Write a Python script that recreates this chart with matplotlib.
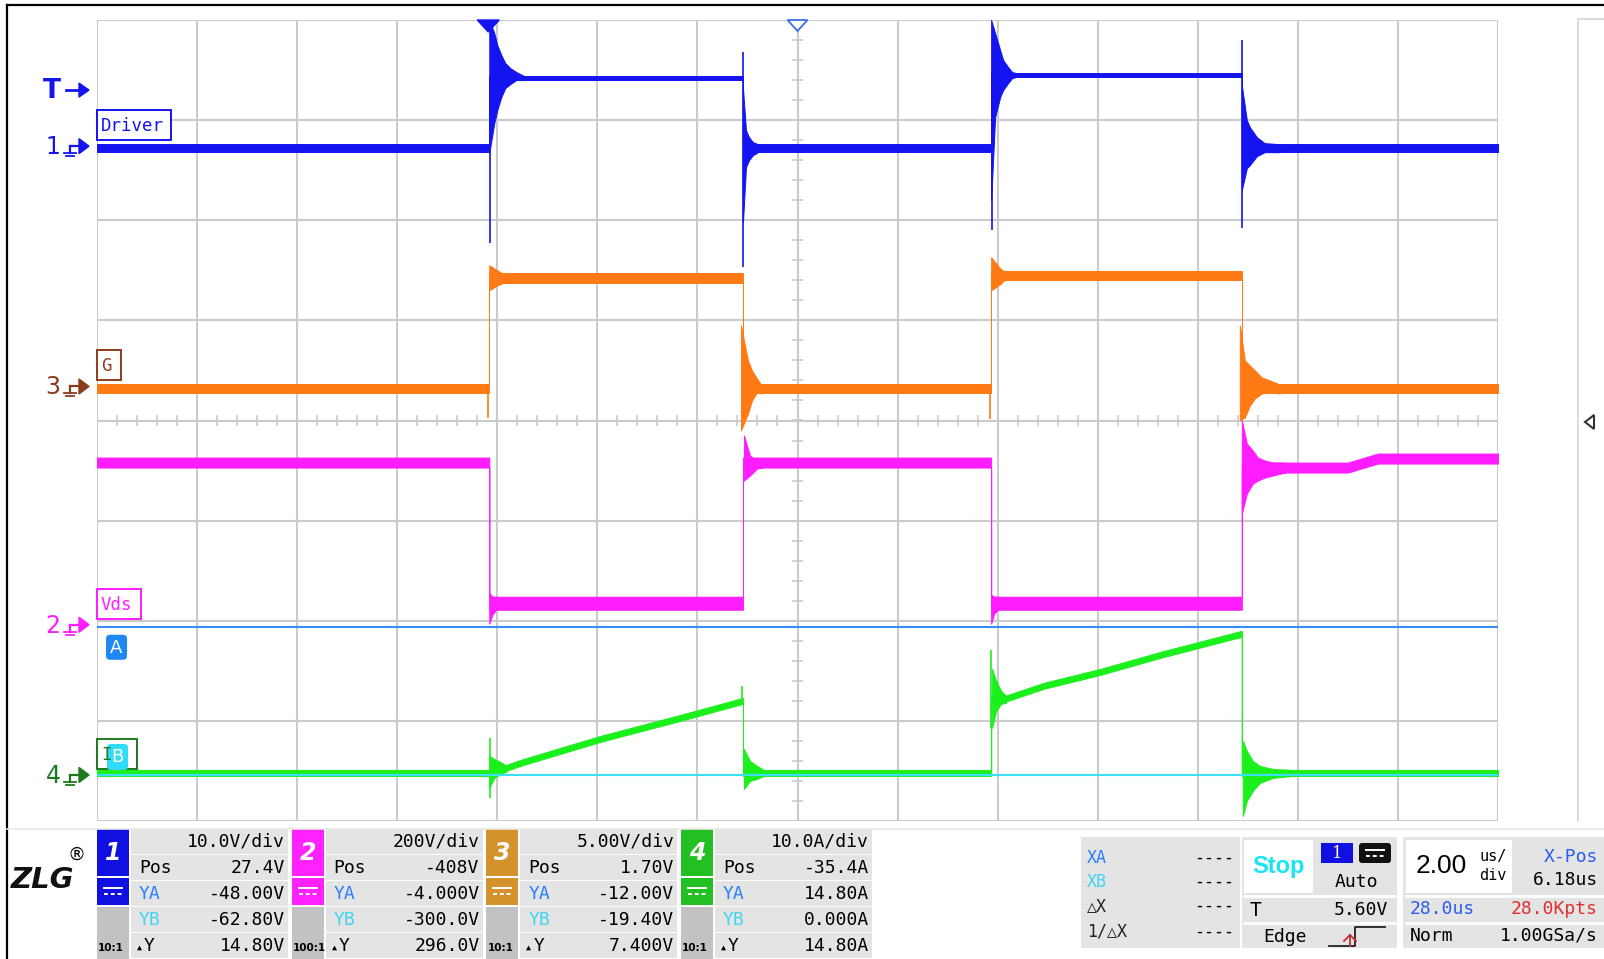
import matplotlib
matplotlib.use("Agg")
import matplotlib.pyplot as plt
import numpy as np
from matplotlib.patches import Rectangle, Polygon, FancyBboxPatch

W, H = 1604, 959
# screen area of the waveform grid, in pixels
GX0, GX1, GY0, GY1 = 97, 1498, 20, 821

plt.rcParams['font.family'] = ['DejaVu Sans Mono', 'DejaVu Sans']

# ---- scope settings ----
ch_names = ["Driver", "Vds", "G", "I"]
ch_scale = [10.0, 200.0, 5.00, 10.0]        # per div
ch_pos = [27.4, -408.0, 1.70, -35.4]
ch_unit = ["V", "V", "V", "A"]
ch_probe = ["10:1", "100:1", "10:1", "10:1"]
ch_ya = [-48.0, -4.0, -12.0, 14.8]
ch_yb = [-62.8, -300.0, -19.4, 0.0]
cursor_ch = 1                                # cursors belong to CH2

time_div = 2.00       # us/div
x_pos = 6.18          # us
trig_level = 5.60     # V on CH1
sample_rate = 1.00    # GSa/s

# ---- CH1 Driver (V) ----
drv_t = [-14, -6.16, -6.16, -1.09, -1.09, 3.87, 3.87, 8.88, 8.88, 14]
drv_hi = [0.2, 0.2, 7.0, 7.0, 0.2, 0.2, 7.3, 7.3, 0.2, 0.2]
drv_lo = [-0.6, -0.6, 6.6, 6.6, -0.6, -0.6, 6.9, 6.9, -0.6, -0.6]
drv_rings = [
    (-6.16, [(0.00, 12.6, -0.7), (0.10, 11.3, 2.3), (0.16, 10.1, 3.6), (0.24, 9.1, 4.9),
             (0.32, 8.3, 5.8), (0.42, 7.8, 6.2), (0.54, 7.4, 6.6), (0.70, 7.0, 6.6)]),
    (-1.09, [(0.00, 5.8, -7.6), (0.06, 1.6, -2.1), (0.12, 0.9, -1.4), (0.20, 0.4, -0.9),
             (0.30, 0.2, -0.6)]),
    (3.87, [(0.00, 12.6, -5.4), (0.08, 11.3, 2.9), (0.18, 9.6, 4.9), (0.24, 8.6, 5.6),
            (0.34, 7.9, 6.3), (0.42, 7.4, 6.8), (0.50, 7.3, 6.9)]),
    (8.88, [(0.00, 6.1, -4.4), (0.10, 2.6, -2.2), (0.16, 1.9, -1.9), (0.30, 0.9, -1.0),
            (0.46, 0.3, -0.6), (0.76, 0.2, -0.6)]),
]
drv_spikes = [(-6.14, -9.7, 0.0), (-1.08, -12.1, 9.4), (3.89, -8.4, 0.0), (8.88, -8.2, 10.6)]

# ---- CH2 Vds (V) ----
vds_t = [-14, -6.16, -6.16, -1.09, -1.09, 3.87, 3.87, 8.88, 8.88, 11.0, 11.6, 14]
vds_hi = [334, 334, 56, 56, 334, 334, 56, 56, 324, 324, 342, 342]
vds_lo = [314, 314, 30, 30, 314, 314, 30, 30, 304, 304, 322, 322]
vds_rings = [
    (-6.16, [(0.00, 64, 2), (0.06, 56, 20), (0.14, 56, 30)]),
    (-1.09, [(0.02, 378, 288), (0.14, 338, 298), (0.28, 328, 312), (0.40, 334, 314)]),
    (3.87, [(0.00, 60, 2), (0.06, 56, 22), (0.14, 56, 30)]),
    (8.88, [(0.00, 408, 222), (0.10, 362, 262), (0.22, 348, 282), (0.32, 334, 288),
            (0.46, 328, 294), (0.62, 324, 298), (0.86, 324, 304)]),
]
vds_spikes = []

# ---- CH3 gate G (V) ----
gate_t = [-14, -6.16, -6.16, -1.09, -1.09, 3.87, 3.87, 8.88, 8.88, 14]
gate_hi = [0.1, 0.1, 5.65, 5.65, 0.1, 0.1, 5.75, 5.75, 0.1, 0.1]
gate_lo = [-0.35, -0.35, 5.15, 5.15, -0.35, -0.35, 5.3, 5.3, -0.35, -0.35]
gate_rings = [
    (-6.16, [(0.00, 6.05, 4.8), (0.16, 5.8, 5.05), (0.26, 5.65, 5.15)]),
    (-1.09, [(-0.04, 3.05, -2.2), (0.10, 1.3, -1.35), (0.18, 0.8, -0.7), (0.28, 0.4, -0.3),
             (0.36, 0.1, -0.35)]),
    (3.87, [(0.00, 6.45, 4.8), (0.18, 5.9, 5.1), (0.26, 5.75, 5.3)]),
    (8.88, [(-0.04, 3.05, -1.7), (0.06, 1.3, -1.55), (0.16, 1.05, -0.95), (0.26, 0.8, -0.6),
            (0.40, 0.45, -0.35), (0.56, 0.3, -0.3), (0.76, 0.1, -0.35)]),
]
gate_spikes = [(-6.18, -1.6, 0.0), (3.85, -1.65, 0.0)]

# ---- CH4 current I (A) ----
cur_t = [-14, -6.16, -5.88, -5.54, -3.94, -2.34, -1.09, -1.09, 3.87, 3.87, 4.12, 4.92,
         6.06, 7.26, 8.88, 8.88, 14]
cur_hi = [0.5, 0.5, 0.9, 1.5, 3.9, 6.0, 7.7, 0.5, 0.5, 7.85, 7.85, 9.2, 10.6, 12.3, 14.4, 0.5, 0.5]
cur_lo = [-0.1, -0.1, 0.3, 0.9, 3.3, 5.4, 7.1, -0.1, -0.1, 7.25, 7.25, 8.6, 10.0, 11.7, 13.8,
          -0.1, -0.1]
cur_rings = [
    (-6.16, [(0.00, 1.9, -1.3), (0.10, 1.6, -0.3), (0.26, 1.2, 0.2), (0.34, 0.9, 0.3)]),
    (-1.09, [(0.02, 2.6, -1.4), (0.14, 1.4, -0.6), (0.28, 0.9, -0.4), (0.42, 0.5, -0.1)]),
    (3.87, [(0.02, 10.6, 4.7), (0.10, 9.4, 6.4), (0.20, 8.4, 7.1), (0.30, 7.9, 7.2)]),
    (8.88, [(0.02, 3.4, -4.1), (0.10, 2.4, -2.6), (0.22, 1.4, -1.6), (0.36, 0.9, -0.8),
            (0.62, 0.6, -0.3), (1.00, 0.5, -0.1)]),
]
cur_spikes = [(-6.14, -2.3, 3.7), (-1.10, 7.0, 8.9), (3.86, 4.7, 12.5)]

trace_col = ['#1414f0', '#ff1cff', '#ff7a14', '#1cf01c']
mark_col = ['#1414f0', '#ff1cff', '#8c3c1c', '#1e7a1e']
block_col = ['#1010e0', '#ff22ff', '#d4922c', '#22c022']
GRID = '#cbcbcb'
PANEL = '#e4e4e4'


def to_div(v, ch):
    return (np.asarray(v, dtype=float) + ch_pos[ch]) / ch_scale[ch]


def px_y(div):
    return GY0 + (4 - div) * (GY1 - GY0) / 8.0


def px_x(t):
    return GX0 + (t / time_div + 7) * (GX1 - GX0) / 14.0


def sig(v, n):
    s = f"{v:#.{n}g}"
    return s.rstrip('.')


fig = plt.figure(figsize=(W / 100, H / 100), dpi=100)
fig.patch.set_facecolor('white')

ax = fig.add_axes([GX0 / W, 1 - GY1 / H, (GX1 - GX0) / W, (GY1 - GY0) / H])
ax.set_xlim(-7 * time_div, 7 * time_div)
ax.set_ylim(-4, 4)
ax.set_axis_off()

# graticule
for k in range(-7, 8):
    ax.axvline(k * time_div, color=GRID, lw=1.5, zorder=1)
for k in range(-4, 5):
    ax.axhline(k, color=GRID, lw=1.5, zorder=1)
ax.hlines(np.arange(-4, 4.01, 0.2), -0.1, 0.1, color=GRID, lw=1.2, zorder=1)
ax.vlines(np.arange(-14, 14.01, 0.4), -0.05, 0.05, color=GRID, lw=1.2, zorder=1)


def draw_trace(ch, t, hi, lo, rings, spikes, z):
    c = trace_col[ch]
    ax.fill_between(t, to_div(lo, ch), to_div(hi, ch), color=c, lw=0.7, zorder=z)
    for t0, pts in rings:
        dt, rh, rl = zip(*pts)
        tt = [t0 + d for d in dt]
        ax.fill_between(tt, to_div(rl, ch), to_div(rh, ch), color=c, lw=0.7, zorder=z)
    for ts, a, b in spikes:
        ax.vlines(ts, to_div(a, ch), to_div(b, ch), color=c, lw=1.2, zorder=z)


draw_trace(3, cur_t, cur_hi, cur_lo, cur_rings, cur_spikes, 3)
draw_trace(1, vds_t, vds_hi, vds_lo, vds_rings, vds_spikes, 4)
draw_trace(2, gate_t, gate_hi, gate_lo, gate_rings, gate_spikes, 5)
draw_trace(0, drv_t, drv_hi, drv_lo, drv_rings, drv_spikes, 6)

# horizontal cursors
ya_div = to_div(ch_ya[cursor_ch], cursor_ch)
yb_div = to_div(ch_yb[cursor_ch], cursor_ch)
ax.axhline(ya_div, color='#3a8cf0', lw=1.5, zorder=8)
ax.axhline(yb_div, color='#3ce0f4', lw=1.5, zorder=8)

# ---- overlay in pixel coordinates ----
ov = fig.add_axes([0, 0, 1, 1], zorder=10)
ov.set_xlim(0, W)
ov.set_ylim(H, 0)
ov.set_axis_off()

# outer frame
ov.plot([7, W], [5, 5], color='black', lw=1.6)
ov.plot([7, 7], [5, H], color='black', lw=1.6)
ov.plot([7, W], [829, 829], color='#e6e9e0', lw=1.2)
ov.plot([1610, 1578, 1578], [19, 19, 821], color='#d4d4d4', lw=1.2)
ov.add_patch(Polygon([(1594, 415), (1585, 422), (1594, 429)], closed=True, fc='white',
                     ec='#333333', lw=1.5))

# trigger position markers on top edge
tx = px_x(-x_pos)
ov.add_patch(Polygon([(tx - 11, GY0), (tx + 11, GY0), (tx, GY0 + 12)], closed=True,
                     fc='#1414f0', ec='#1414f0'))
cx = px_x(0)
ov.add_patch(Polygon([(cx - 10, GY0), (cx + 10, GY0), (cx, GY0 + 11)], closed=True,
                     fc='white', ec='#3a6cf0', lw=1.3))


def gnd_arrow(y, col):
    ov.add_patch(Polygon([(79, y - 7.5), (89, y), (79, y + 7.5)], closed=True, fc=col, ec=col))
    ov.plot([70, 80], [y, y], color=col, lw=1.6)
    ov.plot([70, 70], [y, y + 7], color=col, lw=1.6)
    ov.plot([64, 76], [y + 7, y + 7], color=col, lw=1.3)
    ov.plot([66, 74], [y + 10, y + 10], color=col, lw=1.3)


# trigger level marker
ty = px_y(to_div(trig_level, 0))
ov.text(52, ty + 1, "T", color=mark_col[0], fontsize=19, fontweight='bold',
        family='DejaVu Sans', ha='center', va='center')
ov.plot([66, 80], [ty, ty], color=mark_col[0], lw=2)
ov.add_patch(Polygon([(79, ty - 7), (89, ty), (79, ty + 7)], closed=True,
                     fc=mark_col[0], ec=mark_col[0]))

# channel ground markers and name tags
tag_w = [74, 44, 24, 40]
for ch in range(4):
    gy = px_y(to_div(0.0, ch))
    ov.text(53, gy + 1, str(ch + 1), color=mark_col[ch], fontsize=17,
            family='DejaVu Sans', ha='center', va='center')
    gnd_arrow(gy, mark_col[ch])
    ov.add_patch(Rectangle((97, gy - 36), tag_w[ch], 30, fc='white', ec=mark_col[ch], lw=1.4))
    ov.text(101, gy - 20, ch_names[ch], color=mark_col[ch], fontsize=12.5,
            ha='left', va='center')

# cursor tags
ay = px_y(ya_div)
by = px_y(yb_div)
ov.add_patch(FancyBboxPatch((106, ay + 8), 21, 25, boxstyle='round,pad=0,rounding_size=4',
                            fc='#1e88f4', ec='none'))
ov.text(116.5, ay + 21, "A", color='white', fontsize=13, family='DejaVu Sans',
        ha='center', va='center')
ov.add_patch(FancyBboxPatch((107, by - 31), 21, 26, boxstyle='round,pad=0,rounding_size=4',
                            fc='#30dcf8', ec='none'))
ov.text(117.5, by - 18, "B", color='white', fontsize=13, family='DejaVu Sans',
        ha='center', va='center')

# ---- channel info blocks ----
ov.text(42, 880, "ZLG", fontsize=21, fontweight='bold', fontstyle='italic',
        family='DejaVu Sans', ha='center', va='center', color='#111111')
ov.text(76, 855, "®", fontsize=13, family='DejaVu Sans', ha='center', va='center')

rows = [829, 855, 881, 907, 933]
for ch in range(4):
    x0 = 97 + ch * 194.7
    col = block_col[ch]
    ov.add_patch(Rectangle((x0, 829), 32, 47, fc=col, ec='none'))
    ov.text(x0 + 16, 853, str(ch + 1), color='white', fontsize=17, fontweight='bold',
            fontstyle='italic', family='DejaVu Sans', ha='center', va='center')
    ov.add_patch(Rectangle((x0, 878), 32, 27, fc=col, ec='none'))
    ov.plot([x0 + 7, x0 + 25], [888, 888], color='white', lw=1.4)
    ov.plot([x0 + 7, x0 + 25], [894, 894], color='white', lw=1.4, ls=(0, (2, 1.5)))
    ov.add_patch(Rectangle((x0, 907), 32, 52, fc='#c2c2c2', ec='none'))
    ov.text(x0 + 1, 948, ch_probe[ch], fontsize=7.5, fontweight='bold',
            family='DejaVu Sans', ha='left', va='center')
    for r in rows:
        ov.add_patch(Rectangle((x0 + 34, r), 157, 25, fc=PANEL, ec='none'))
    u = ch_unit[ch]
    xr = x0 + 188
    xl = x0 + 42
    ov.text(xr, rows[0] + 13, f"{sig(ch_scale[ch], 3)}{u}/div", fontsize=13,
            ha='right', va='center')
    ov.text(xl, rows[1] + 13, "Pos", fontsize=13, ha='left', va='center')
    ov.text(xr, rows[1] + 13, f"{sig(ch_pos[ch], 3)}{u}", fontsize=13, ha='right', va='center')
    ov.text(xl, rows[2] + 13, "YA", fontsize=13, color='#2a7fff', ha='left', va='center')
    ov.text(xr, rows[2] + 13, f"{sig(ch_ya[ch], 4)}{u}", fontsize=13, ha='right', va='center')
    ov.text(xl, rows[3] + 13, "YB", fontsize=13, color='#40d4f0', ha='left', va='center')
    ov.text(xr, rows[3] + 13, f"{sig(ch_yb[ch], 4)}{u}", fontsize=13, ha='right', va='center')
    ov.text(xl - 2, rows[4] + 14, "▲", fontsize=6, ha='left', va='center')
    ov.text(xl + 5, rows[4] + 13, "Y", fontsize=13, ha='left', va='center')
    dy = abs(ch_ya[ch] - ch_yb[ch])
    ov.text(xr, rows[4] + 13, f"{sig(dy, 4)}{u}", fontsize=13, ha='right', va='center')

# ---- cursor readout ----
ov.add_patch(Rectangle((1081, 837), 159, 111, fc=PANEL, ec='none'))
for lab, yy, c in [("XA", 858, '#2a7fff'), ("XB", 882, '#40d4f0'),
                   ("△X", 906, '#222222'), ("1/△X", 932, '#222222')]:
    ov.text(1087, yy, lab, fontsize=12, color=c, ha='left', va='center')
    ov.text(1234, yy, "----", fontsize=12, ha='right', va='center')

# ---- run / trigger status ----
ov.add_patch(Rectangle((1242, 837), 155, 111, fc=PANEL, ec='none'))
ov.add_patch(Rectangle((1244, 840), 69, 53, fc='white', ec='none'))
ov.text(1278, 867, "Stop", fontsize=17, fontweight='bold', color='#19e4f2',
        family='Liberation Sans', ha='center', va='center')
ov.add_patch(Rectangle((1321, 843), 32, 20, fc='#1010e0', ec='none'))
ov.text(1337, 853, "1", fontsize=12, color='white', family='DejaVu Serif',
        ha='center', va='center')
ov.add_patch(FancyBboxPatch((1359, 843), 32, 20, boxstyle='round,pad=0,rounding_size=3',
                            fc='#111111', ec='none'))
ov.plot([1366, 1384], [850, 850], color='white', lw=1.4)
ov.plot([1366, 1384], [856, 856], color='white', lw=1.4, ls=(0, (2, 1.5)))
ov.text(1356, 882, "Auto", fontsize=13, ha='center', va='center')
ov.plot([1244, 1395], [896, 896], color='white', lw=2)
ov.plot([1244, 1395], [923, 923], color='white', lw=2)
ov.text(1249, 910, "T", fontsize=14, ha='left', va='center')
ov.text(1388, 910, f"{trig_level:.2f}V", fontsize=13, ha='right', va='center')
ov.text(1285, 937, "Edge", fontsize=13, ha='center', va='center')
ov.plot([1329, 1355, 1355, 1385], [946, 946, 927, 927], color='#222222', lw=1.3)
ov.plot([1344, 1350, 1356], [941, 935, 941], color='#c03030', lw=1.3)
ov.plot([1350, 1350], [935, 946], color='#c03030', lw=1.3)

# ---- timebase ----
ov.add_patch(Rectangle((1403, 837), 201, 111, fc=PANEL, ec='none'))
ov.add_patch(Rectangle((1406, 840), 106, 53, fc='white', ec='none'))
ov.text(1441, 866, f"{time_div:.2f}", fontsize=19, family='Liberation Sans',
        ha='center', va='center')
ov.text(1493, 856, "us/", fontsize=11, ha='center', va='center')
ov.text(1493, 876, "div", fontsize=11, ha='center', va='center')
ov.text(1598, 857, "X-Pos", fontsize=13, color='#2a5cf0', ha='right', va='center')
ov.text(1598, 880, f"{x_pos:.2f}us", fontsize=13, ha='right', va='center')
ov.plot([1406, 1604], [896, 896], color='white', lw=2)
ov.plot([1406, 1604], [923, 923], color='white', lw=2)
span = 14 * time_div
ov.text(1410, 909, f"{span:.1f}us", fontsize=13, color='#2a5cf0', ha='left', va='center')
ov.text(1598, 909, f"{span * sample_rate:.1f}Kpts", fontsize=13, color='#e03030',
        ha='right', va='center')
ov.text(1410, 936, "Norm", fontsize=13, ha='left', va='center')
ov.text(1598, 936, f"{sample_rate:.2f}GSa/s", fontsize=13, ha='right', va='center')

fig.savefig("out.png", dpi=100, facecolor='white')
